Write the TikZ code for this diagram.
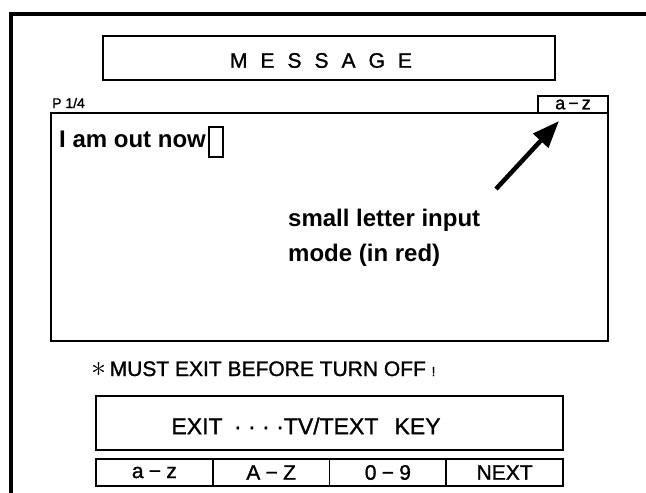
\documentclass[tikz,border=0pt]{standalone}
\usepackage{fontspec}
\setmainfont{Liberation Sans}[UprightFeatures={FakeBold=1.2}]
\usetikzlibrary{positioning}
\usetikzlibrary{arrows.meta}

\newcommand{\lgap}{\hspace{0.62em}}
\newcommand{\kdash}{\hspace{0.25em}−\hspace{0.25em}}

\begin{document}
\begin{tikzpicture}[x=1pt,y=-1pt,
      panel/.style={draw, line width=1.8pt, inner sep=0pt, outer sep=0pt,
         anchor=north west},
      keycell/.style={draw, line width=1.8pt, inner sep=0pt, outer sep=0pt,
         minimum width=116.75pt, minimum height=27pt,
         font=\fontsize{21}{21}\selectfont},
      plaintext/.style={anchor=base west, inner sep=0pt},
   ]
   \useasboundingbox (0,0) rectangle (646,493);

   % screen frame
   \coordinate (f0) at (11,493);
   \coordinate (f1) at (11,14);
   \coordinate (f2) at (646,14);
   \draw[line width=3.5pt] (f0) -- (f1) -- (f2);

   % title bar
   \node[panel, minimum width=452pt, minimum height=44pt] (title) at (103,36) {};
   \node[font=\fontsize{21}{21}\selectfont] (titletext) at (321,60.5)
      {M\lgap E\lgap S\lgap S\lgap A\lgap G\lgap E};

   % message window
   \node[panel, minimum width=557pt, minimum height=228pt] (window) at (51,113) {};
   \node[panel, anchor=south east, minimum width=70pt, minimum height=17pt,
      font=\fontsize{18}{18}\selectfont] (mode) at (window.north east)
      {a\,−\,z};
   \node[plaintext, font=\fontsize{14}{14}\selectfont] (page) at (52,108) {P 1/4};

   \node[plaintext, font=\bfseries\fontsize{24}{24}\selectfont] (line) at (59,147)
      {I am out now};
   \node[draw, line width=1.4pt, inner sep=0pt, outer sep=0pt, minimum width=14pt,
      minimum height=30pt, anchor=north west] (cursor) at (209,127) {};

   % note + arrow
   \node[plaintext, font=\bfseries\fontsize{24}{24}\selectfont] (note1) at (288,226)
      {small letter input};
   \node[plaintext, font=\bfseries\fontsize{24}{24}\selectfont] (note2) at (288,261)
      {mode (in red)};
   \coordinate (tail) at (496,189);
   \coordinate (tip)  at (559,121);
   \draw[line width=4.5pt, -{Triangle[length=27pt,width=20pt]}] (tail) -- (tip);

   % warning
   \node[plaintext, font=\fontsize{21}{21}\selectfont] (warn) at (91,376)
      {\scalebox{1.45}{$\ast$}\,MUST EXIT BEFORE TURN OFF {\fontsize{13}{13}\selectfont !}};

   % key help
   \node[panel, minimum width=467pt, minimum height=54pt] (help) at (96,396) {};
   \node[font=\fontsize{23}{23}\selectfont] (helptext) at (306,426)
      {EXIT\hspace{0.5em}· · · ·TV/TEXT\hspace{0.7em}KEY};

   % key row
   \node[keycell, anchor=north west] (kA) at (96,459) {a\kdash z};
   \node[keycell, right=0pt of kA]  (kB) {A\kdash Z};
   \node[keycell, right=0pt of kB]  (kC) {0\kdash 9};
   \node[keycell, right=0pt of kC]  (kD) {NEXT};
\end{tikzpicture}
\end{document}
